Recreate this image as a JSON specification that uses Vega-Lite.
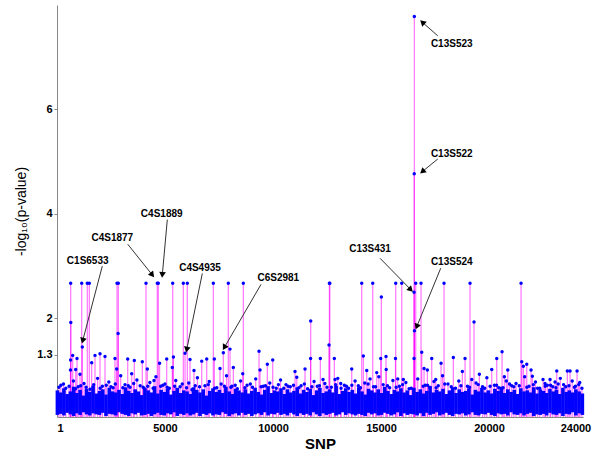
{
"$schema": "https://vega.github.io/schema/vega-lite/v6.json",
"width": 526, "height": 412,
"autosize": {"type": "none"},
"padding": {"left": 57, "top": 5, "right": 17, "bottom": 37},
"background": "white",
"config": {"view": {"stroke": null}, "font": "Liberation Sans"},
"datasets": {
"snps": [
{"s":635,"p":2.67},{"s":1145,"p":2.67},{"s":1404,"p":2.67},{"s":1496,"p":2.67},{"s":2779,"p":2.67},{"s":2839,"p":2.67},{"s":4121,"p":2.67},{"s":4644,"p":2.67},{"s":4690,"p":2.67},{"s":5357,"p":2.67},{"s":5848,"p":2.67},{"s":6033,"p":2.67},{"s":7237,"p":2.67},{"s":7931,"p":2.67},{"s":8626,"p":2.67},{"s":12610,"p":2.67},{"s":12630,"p":2.67},{"s":14107,"p":2.67},{"s":14617,"p":2.67},{"s":15681,"p":2.67},{"s":15959,"p":2.67},{"s":16607,"p":2.67},{"s":16852,"p":2.67},{"s":17917,"p":2.67},{"s":19121,"p":2.67},{"s":21482,"p":2.67},
{"s":16542,"p":7.78},{"s":16538,"p":4.77},{"s":16530,"p":2.5},{"s":16548,"p":1.76},
{"s":640,"p":1.92},{"s":630,"p":1.2},{"s":728,"p":1.29},{"s":625,"p":1.01},{"s":867,"p":1.02},{"s":927,"p":1.23},{"s":1066,"p":0.93},{"s":1172,"p":1.45},{"s":1607,"p":1.15},{"s":1760,"p":1.29},{"s":1992,"p":1.32},{"s":2223,"p":1.27},{"s":2686,"p":1.23},{"s":2765,"p":1.03},{"s":2830,"p":1.71},{"s":3274,"p":1.22},{"s":3580,"p":1.19},{"s":3459,"p":0.94},{"s":3950,"p":1.17},{"s":4181,"p":1.03},{"s":4492,"p":0.81},{"s":4750,"p":1.14},{"s":5080,"p":1.22},{"s":5339,"p":1.06},{"s":5390,"p":1.26},{"s":6158,"p":1.21},{"s":5927,"p":1.33},{"s":6343,"p":1.0},{"s":6700,"p":1.18},{"s":6932,"p":1.22},{"s":7284,"p":1.22},{"s":7547,"p":1.04},{"s":7700,"p":1.34},{"s":8010,"p":1.41},{"s":8163,"p":1.06},{"s":8600,"p":0.94},{"s":9353,"p":1.37},{"s":9399,"p":1.01},{"s":9737,"p":1.12},{"s":9987,"p":1.2},{"s":11019,"p":0.98},{"s":11482,"p":1.03},{"s":11746,"p":1.95},{"s":11740,"p":1.23},{"s":12191,"p":1.23},{"s":12316,"p":0.83},{"s":12593,"p":1.49},{"s":12839,"p":1.23},{"s":12871,"p":0.83},{"s":13135,"p":0.75},{"s":13644,"p":1.03},{"s":14181,"p":1.28},{"s":14339,"p":1.0},{"s":14492,"p":0.84},{"s":14802,"p":0.96},{"s":15015,"p":2.41},{"s":14987,"p":1.23},{"s":15232,"p":1.27},{"s":15240,"p":1.02},{"s":15670,"p":1.23},{"s":15774,"p":0.84},{"s":16033,"p":0.83},{"s":16528,"p":1.23},{"s":16885,"p":1.35},{"s":16992,"p":1.04},{"s":17145,"p":1.01},{"s":17348,"p":1.23},{"s":17533,"p":0.83},{"s":17779,"p":1.14},{"s":18348,"p":1.25},{"s":18765,"p":0.98},{"s":18890,"p":1.23},{"s":19200,"p":0.83},{"s":19306,"p":1.93},{"s":19552,"p":0.93},{"s":20125,"p":1.02},{"s":20357,"p":1.23},{"s":20603,"p":1.36},{"s":20710,"p":0.88},{"s":20867,"p":1.01},{"s":21515,"p":1.17},{"s":21589,"p":1.08},{"s":21746,"p":1.12},{"s":21945,"p":1.01},{"s":22005,"p":0.89},{"s":22593,"p":0.75},{"s":22825,"p":0.83},{"s":23135,"p":0.99},{"s":23625,"p":0.99},{"s":23750,"p":0.99},{"s":24075,"p":0.99},{"s":23056,"p":0.78},
{"s":180,"p":0.72},{"s":410,"p":0.66},{"s":760,"p":0.8},{"s":980,"p":0.69},{"s":1250,"p":0.75},{"s":1530,"p":0.64},{"s":1880,"p":0.85},{"s":2100,"p":0.7},{"s":2400,"p":0.78},{"s":2600,"p":0.67},{"s":2950,"p":0.9},{"s":3150,"p":0.73},{"s":3380,"p":0.68},{"s":3700,"p":0.82},{"s":3850,"p":0.71},{"s":4050,"p":0.65},{"s":4300,"p":0.77},{"s":4580,"p":0.88},{"s":4800,"p":0.7},{"s":5000,"p":0.74},{"s":5200,"p":0.66},{"s":5500,"p":0.81},{"s":5700,"p":0.69},{"s":6100,"p":0.76},{"s":6250,"p":0.63},{"s":6500,"p":0.86},{"s":6850,"p":0.71},{"s":7050,"p":0.79},{"s":7400,"p":0.67},{"s":7600,"p":0.74},{"s":7850,"p":0.9},{"s":8100,"p":0.7},{"s":8350,"p":0.65},{"s":8500,"p":0.8},{"s":8800,"p":0.72},{"s":9050,"p":0.68},{"s":9200,"p":0.84},{"s":9550,"p":0.7},{"s":9850,"p":0.76},{"s":10150,"p":0.66},{"s":10350,"p":0.82},{"s":10600,"p":0.73},{"s":10800,"p":0.69},{"s":11100,"p":0.87},{"s":11300,"p":0.71},{"s":11600,"p":0.65},{"s":11900,"p":0.79},{"s":12050,"p":0.7},{"s":12400,"p":0.75},{"s":12700,"p":0.68},{"s":13000,"p":0.85},{"s":13300,"p":0.72},{"s":13500,"p":0.66},{"s":13800,"p":0.8},{"s":13950,"p":0.71},{"s":14250,"p":0.76},{"s":14650,"p":0.69},{"s":14900,"p":0.88},{"s":15100,"p":0.73},{"s":15400,"p":0.67},{"s":15550,"p":0.81},{"s":15850,"p":0.7},{"s":16150,"p":0.77},{"s":16300,"p":0.65},{"s":16700,"p":0.84},{"s":17050,"p":0.72},{"s":17250,"p":0.68},{"s":17450,"p":0.79},{"s":17650,"p":0.71},{"s":17850,"p":0.9},{"s":18100,"p":0.74},{"s":18450,"p":0.66},{"s":18600,"p":0.8},{"s":19000,"p":0.7},{"s":19400,"p":0.76},{"s":19700,"p":0.69},{"s":19900,"p":0.86},{"s":20250,"p":0.72},{"s":20450,"p":0.67},{"s":20800,"p":0.8},{"s":21050,"p":0.71},{"s":21250,"p":0.75},{"s":21650,"p":0.88},{"s":21850,"p":0.7},{"s":22150,"p":0.78},{"s":22350,"p":0.66},{"s":22500,"p":0.83},{"s":22700,"p":0.72},{"s":22950,"p":0.69},{"s":23300,"p":0.85},{"s":23450,"p":0.73},{"s":23850,"p":0.8},{"s":24000,"p":0.7},{"s":24200,"p":0.77},
{"s":90,"p":0.68},{"s":300,"p":0.74},{"s":560,"p":0.7},{"s":860,"p":0.65},{"s":1100,"p":0.71},{"s":1350,"p":0.68},{"s":1700,"p":0.73},{"s":2000,"p":0.66},{"s":2280,"p":0.72},{"s":2500,"p":0.69},{"s":2700,"p":0.74},{"s":3050,"p":0.67},{"s":3300,"p":0.71},{"s":3550,"p":0.75},{"s":3990,"p":0.68},{"s":4200,"p":0.7},{"s":4450,"p":0.66},{"s":4900,"p":0.72},{"s":5100,"p":0.68},{"s":5450,"p":0.7},{"s":5800,"p":0.74},{"s":6000,"p":0.67},{"s":6400,"p":0.71},{"s":6600,"p":0.69},{"s":7000,"p":0.73},{"s":7300,"p":0.66},{"s":7750,"p":0.7},{"s":8050,"p":0.68},{"s":8250,"p":0.72},{"s":8700,"p":0.67},{"s":8950,"p":0.74},{"s":9450,"p":0.69},{"s":9650,"p":0.71},{"s":10000,"p":0.68},{"s":10250,"p":0.73},{"s":10500,"p":0.66},{"s":10700,"p":0.7},{"s":10950,"p":0.72},{"s":11200,"p":0.67},{"s":11450,"p":0.74},{"s":11800,"p":0.69},{"s":12150,"p":0.71},{"s":12500,"p":0.68},{"s":12900,"p":0.73},{"s":13150,"p":0.66},{"s":13400,"p":0.7},{"s":13650,"p":0.72},{"s":14050,"p":0.67},{"s":14400,"p":0.74},{"s":14750,"p":0.69},{"s":15300,"p":0.71},{"s":15700,"p":0.68},{"s":16000,"p":0.73},{"s":16400,"p":0.66},{"s":16950,"p":0.7},{"s":17150,"p":0.72},{"s":17550,"p":0.67},{"s":17950,"p":0.74},{"s":18250,"p":0.69},{"s":18700,"p":0.71},{"s":19100,"p":0.68},{"s":19500,"p":0.73},{"s":19800,"p":0.66},{"s":20050,"p":0.7},{"s":20350,"p":0.72},{"s":20650,"p":0.67},{"s":20950,"p":0.74},{"s":21150,"p":0.69},{"s":21400,"p":0.71},{"s":21750,"p":0.68},{"s":22050,"p":0.73},{"s":22250,"p":0.66},{"s":22600,"p":0.7},{"s":22850,"p":0.72},{"s":23100,"p":0.67},{"s":23200,"p":0.74},{"s":23550,"p":0.69},{"s":23700,"p":0.71},{"s":23950,"p":0.68},{"s":24150,"p":0.73},{"s":24300,"p":0.66}
],
"band": [
{"s":20,"lo":0.15,"hi":0.62},{"s":170,"lo":0.17,"hi":0.58},{"s":320,"lo":0.14,"hi":0.66},{"s":470,"lo":0.19,"hi":0.55},{"s":620,"lo":0.16,"hi":0.6},{"s":770,"lo":0.13,"hi":0.69},{"s":920,"lo":0.18,"hi":0.57},{"s":1070,"lo":0.15,"hi":0.63},{"s":1220,"lo":0.2,"hi":0.52},{"s":1370,"lo":0.16,"hi":0.65},
{"s":1520,"lo":0.14,"hi":0.59},{"s":1670,"lo":0.18,"hi":0.71},{"s":1820,"lo":0.16,"hi":0.56},{"s":1970,"lo":0.15,"hi":0.61},{"s":2120,"lo":0.19,"hi":0.64},{"s":2270,"lo":0.13,"hi":0.54},{"s":2420,"lo":0.17,"hi":0.67},{"s":2570,"lo":0.16,"hi":0.6},{"s":2720,"lo":0.14,"hi":0.58},{"s":2870,"lo":0.2,"hi":0.63},
{"s":3020,"lo":0.17,"hi":0.55},{"s":3170,"lo":0.15,"hi":0.68},{"s":3320,"lo":0.13,"hi":0.61},{"s":3470,"lo":0.18,"hi":0.57},{"s":3620,"lo":0.16,"hi":0.64},{"s":3770,"lo":0.19,"hi":0.6},{"s":3920,"lo":0.14,"hi":0.53},{"s":4070,"lo":0.15,"hi":0.66},{"s":4220,"lo":0.17,"hi":0.62},{"s":4370,"lo":0.13,"hi":0.58},
{"s":4520,"lo":0.16,"hi":0.7},{"s":4670,"lo":0.19,"hi":0.56},{"s":4820,"lo":0.15,"hi":0.63},{"s":4970,"lo":0.14,"hi":0.59},{"s":5120,"lo":0.18,"hi":0.65},{"s":5270,"lo":0.16,"hi":0.54},{"s":5420,"lo":0.2,"hi":0.61},{"s":5570,"lo":0.13,"hi":0.67},{"s":5720,"lo":0.17,"hi":0.57},{"s":5870,"lo":0.15,"hi":0.62},
{"s":6020,"lo":0.18,"hi":0.6},{"s":6170,"lo":0.14,"hi":0.55},{"s":6320,"lo":0.16,"hi":0.68},{"s":6470,"lo":0.19,"hi":0.63},{"s":6620,"lo":0.13,"hi":0.58},{"s":6770,"lo":0.17,"hi":0.64},{"s":6920,"lo":0.15,"hi":0.52},{"s":7070,"lo":0.18,"hi":0.61},{"s":7220,"lo":0.14,"hi":0.66},{"s":7370,"lo":0.16,"hi":0.59},
{"s":7520,"lo":0.15,"hi":0.63},{"s":7670,"lo":0.2,"hi":0.57},{"s":7820,"lo":0.17,"hi":0.69},{"s":7970,"lo":0.13,"hi":0.6},{"s":8120,"lo":0.16,"hi":0.55},{"s":8270,"lo":0.18,"hi":0.65},{"s":8420,"lo":0.14,"hi":0.62},{"s":8570,"lo":0.19,"hi":0.58},{"s":8720,"lo":0.15,"hi":0.64},{"s":8870,"lo":0.17,"hi":0.56},
{"s":9020,"lo":0.13,"hi":0.61},{"s":9170,"lo":0.16,"hi":0.67},{"s":9320,"lo":0.18,"hi":0.59},{"s":9470,"lo":0.15,"hi":0.54},{"s":9620,"lo":0.2,"hi":0.63},{"s":9770,"lo":0.14,"hi":0.7},{"s":9920,"lo":0.17,"hi":0.57},{"s":10070,"lo":0.16,"hi":0.62},{"s":10220,"lo":0.19,"hi":0.6},{"s":10370,"lo":0.15,"hi":0.66},
{"s":10520,"lo":0.17,"hi":0.55},{"s":10670,"lo":0.14,"hi":0.64},{"s":10820,"lo":0.19,"hi":0.58},{"s":10970,"lo":0.16,"hi":0.61},{"s":11120,"lo":0.13,"hi":0.68},{"s":11270,"lo":0.18,"hi":0.56},{"s":11420,"lo":0.15,"hi":0.63},{"s":11570,"lo":0.17,"hi":0.59},{"s":11720,"lo":0.14,"hi":0.65},{"s":11870,"lo":0.2,"hi":0.53},
{"s":12020,"lo":0.16,"hi":0.62},{"s":12170,"lo":0.13,"hi":0.67},{"s":12320,"lo":0.18,"hi":0.57},{"s":12470,"lo":0.15,"hi":0.6},{"s":12620,"lo":0.17,"hi":0.64},{"s":12770,"lo":0.19,"hi":0.58},{"s":12920,"lo":0.14,"hi":0.71},{"s":13070,"lo":0.16,"hi":0.55},{"s":13220,"lo":0.2,"hi":0.61},{"s":13370,"lo":0.15,"hi":0.66},
{"s":13520,"lo":0.18,"hi":0.59},{"s":13670,"lo":0.16,"hi":0.63},{"s":13820,"lo":0.14,"hi":0.56},{"s":13970,"lo":0.17,"hi":0.68},{"s":14120,"lo":0.15,"hi":0.6},{"s":14270,"lo":0.13,"hi":0.54},{"s":14420,"lo":0.19,"hi":0.65},{"s":14570,"lo":0.16,"hi":0.62},{"s":14720,"lo":0.18,"hi":0.58},{"s":14870,"lo":0.14,"hi":0.64},
{"s":15020,"lo":0.15,"hi":0.57},{"s":15170,"lo":0.19,"hi":0.69},{"s":15320,"lo":0.17,"hi":0.61},{"s":15470,"lo":0.14,"hi":0.55},{"s":15620,"lo":0.16,"hi":0.63},{"s":15770,"lo":0.2,"hi":0.6},{"s":15920,"lo":0.13,"hi":0.66},{"s":16070,"lo":0.18,"hi":0.58},{"s":16220,"lo":0.15,"hi":0.62},{"s":16370,"lo":0.17,"hi":0.53},
{"s":16520,"lo":0.16,"hi":0.67},{"s":16670,"lo":0.14,"hi":0.59},{"s":16820,"lo":0.18,"hi":0.64},{"s":16970,"lo":0.13,"hi":0.56},{"s":17120,"lo":0.19,"hi":0.61},{"s":17270,"lo":0.15,"hi":0.7},{"s":17420,"lo":0.17,"hi":0.58},{"s":17570,"lo":0.2,"hi":0.63},{"s":17720,"lo":0.14,"hi":0.6},{"s":17870,"lo":0.16,"hi":0.65},
{"s":18020,"lo":0.19,"hi":0.55},{"s":18170,"lo":0.15,"hi":0.62},{"s":18320,"lo":0.13,"hi":0.68},{"s":18470,"lo":0.17,"hi":0.57},{"s":18620,"lo":0.16,"hi":0.64},{"s":18770,"lo":0.18,"hi":0.59},{"s":18920,"lo":0.14,"hi":0.61},{"s":19070,"lo":0.16,"hi":0.66},{"s":19220,"lo":0.2,"hi":0.54},{"s":19370,"lo":0.15,"hi":0.63},
{"s":19520,"lo":0.14,"hi":0.6},{"s":19670,"lo":0.17,"hi":0.67},{"s":19820,"lo":0.16,"hi":0.58},{"s":19970,"lo":0.19,"hi":0.62},{"s":20120,"lo":0.15,"hi":0.56},{"s":20270,"lo":0.13,"hi":0.65},{"s":20420,"lo":0.18,"hi":0.61},{"s":20570,"lo":0.16,"hi":0.69},{"s":20720,"lo":0.17,"hi":0.57},{"s":20870,"lo":0.14,"hi":0.64},
{"s":21020,"lo":0.2,"hi":0.59},{"s":21170,"lo":0.16,"hi":0.63},{"s":21320,"lo":0.15,"hi":0.55},{"s":21470,"lo":0.18,"hi":0.66},{"s":21620,"lo":0.14,"hi":0.6},{"s":21770,"lo":0.17,"hi":0.62},{"s":21920,"lo":0.19,"hi":0.58},{"s":22070,"lo":0.13,"hi":0.68},{"s":22220,"lo":0.16,"hi":0.56},{"s":22370,"lo":0.15,"hi":0.64},
{"s":22520,"lo":0.17,"hi":0.61},{"s":22670,"lo":0.14,"hi":0.57},{"s":22820,"lo":0.19,"hi":0.65},{"s":22970,"lo":0.16,"hi":0.6},{"s":23120,"lo":0.15,"hi":0.63},{"s":23270,"lo":0.18,"hi":0.55},{"s":23420,"lo":0.13,"hi":0.67},{"s":23570,"lo":0.17,"hi":0.59},{"s":23720,"lo":0.16,"hi":0.62},{"s":23870,"lo":0.2,"hi":0.58},
{"s":24020,"lo":0.14,"hi":0.64},{"s":24170,"lo":0.18,"hi":0.6},{"s":24320,"lo":0.15,"hi":0.56}
],
"notes": [
{"label":"C13S523","tx":18274,"ty":7.25,"x1":17626,"y1":7.41,"x2":16913,"y2":7.67,"ang":312},
{"label":"C13S522","tx":18274,"ty":5.15,"x1":17626,"y1":5.05,"x2":16913,"y2":4.81,"ang":230},
{"label":"C13S431","tx":14490,"ty":3.32,"x1":14955,"y1":3.15,"x2":16376,"y2":2.55,"ang":135},
{"label":"C13S524","tx":18274,"ty":3.08,"x1":17765,"y1":2.96,"x2":16654,"y2":1.84,"ang":202},
{"label":"C4S1889","tx":4848,"ty":3.99,"x1":5107,"y1":3.89,"x2":4876,"y2":2.83,"ang":185},
{"label":"C4S1877","tx":2561,"ty":3.53,"x1":3274,"y1":3.42,"x2":4413,"y2":2.83,"ang":141},
{"label":"C1S6533","tx":1422,"ty":3.1,"x1":2098,"y1":3.0,"x2":1191,"y2":1.57,"ang":195},
{"label":"C4S4935","tx":6621,"ty":2.97,"x1":6728,"y1":2.86,"x2":6006,"y2":1.4,"ang":192},
{"label":"C6S2981","tx":10246,"ty":2.78,"x1":9445,"y1":2.65,"x2":7746,"y2":1.44,"ang":210}
]
},
"layer": [
{
"data": {"name": "snps"},
"mark": {"type": "rule", "color": "#ff00ff", "opacity": 0.55, "strokeWidth": 1.2},
"encoding": {
"x": {"field": "s", "type": "quantitative", "title": "SNP",
"scale": {"domain": [1, 24350], "nice": false, "zero": false},
"axis": {"values": [1, 5000, 10000, 15000, 20000, 24000], "format": "d", "grid": false, "ticks": false,
"domainColor": "#888888", "labelFont": "Liberation Sans", "labelFontWeight": "bold", "labelFontSize": 11, "labelColor": "#000000", "labelPadding": 5,
"titleFont": "Liberation Sans", "titleFontSize": 15, "titleFontWeight": "bold", "titleColor": "#000000", "titlePadding": 3}},
"y": {"field": "p", "type": "quantitative", "title": "-log₁₀(p-value)",
"scale": {"domain": [0.11, 8], "nice": false, "zero": false},
"axis": {"values": [1.3, 2, 4, 6], "labelExpr": "datum.value + ''", "grid": false, "tickSize": 3, "tickColor": "#888888",
"domainColor": "#888888", "labelFont": "Liberation Sans", "labelFontWeight": "bold", "labelFontSize": 11, "labelColor": "#000000", "labelPadding": 2,
"titleFont": "Liberation Sans", "titleFontSize": 14, "titleFontWeight": "normal", "titleColor": "#000000", "titlePadding": 8}},
"y2": {"datum": 0.11}
}
},
{
"data": {"name": "band"},
"mark": {"type": "rule", "color": "#0000ff", "strokeWidth": 3.6},
"encoding": {
"x": {"field": "s", "type": "quantitative", "title": "SNP"},
"y": {"field": "lo", "type": "quantitative", "title": "-log₁₀(p-value)"},
"y2": {"field": "hi"}
}
},
{
"data": {"name": "snps"},
"mark": {"type": "point", "filled": true, "color": "#0000ff", "size": 12, "opacity": 1},
"encoding": {
"x": {"field": "s", "type": "quantitative", "title": "SNP"},
"y": {"field": "p", "type": "quantitative", "title": "-log₁₀(p-value)"}
}
},
{
"data": {"name": "notes"},
"mark": {"type": "rule", "color": "#333333", "strokeWidth": 1},
"encoding": {
"x": {"field": "x1", "type": "quantitative", "title": "SNP"},
"y": {"field": "y1", "type": "quantitative", "title": "-log₁₀(p-value)"},
"x2": {"field": "x2"},
"y2": {"field": "y2"}
}
},
{
"data": {"name": "notes"},
"mark": {"type": "point", "shape": "triangle-up", "filled": true, "color": "#000000", "size": 45, "opacity": 1},
"encoding": {
"x": {"field": "x2", "type": "quantitative", "title": "SNP"},
"y": {"field": "y2", "type": "quantitative", "title": "-log₁₀(p-value)"},
"angle": {"field": "ang", "type": "quantitative", "scale": null}
}
},
{
"data": {"name": "notes"},
"mark": {"type": "text", "font": "Liberation Sans", "fontWeight": "bold", "fontSize": 10, "color": "#000000"},
"encoding": {
"x": {"field": "tx", "type": "quantitative", "title": "SNP"},
"y": {"field": "ty", "type": "quantitative", "title": "-log₁₀(p-value)"},
"text": {"field": "label"}
}
}
]
}
